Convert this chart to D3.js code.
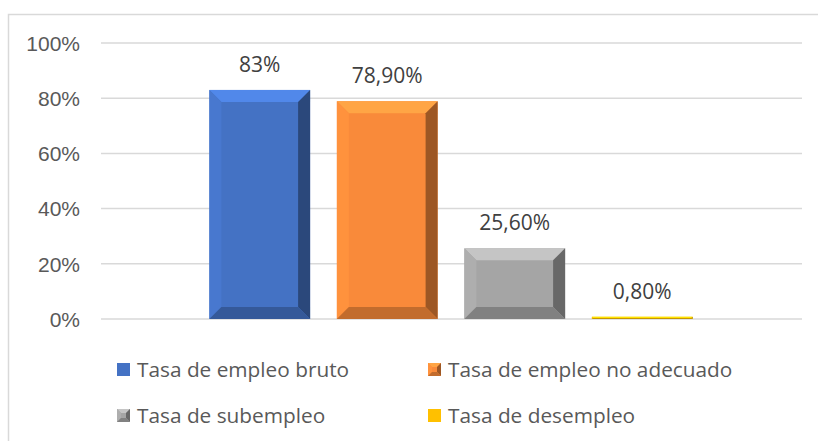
<!DOCTYPE html>
<script src="https://d3js.org/d3.v7.min.js"></script>

<style>
body {margin: 0; background: white;}
svg {font-family: "Open Sans", sans-serif;}
.grid line {stroke: #d9d9d9; stroke-width: 1.5;}
.axis text {fill: #595959; font-size: 21px;}
.label {fill: #404040; font-size: 21px; text-anchor: middle;}
.legend text {fill: #595959; font-size: 20.8px;}
</style>

<svg width="818" height="441"></svg>

<script>
var series = ["Tasa de empleo bruto", "Tasa de empleo no adecuado", "Tasa de subempleo", "Tasa de desempleo"];
var values = [0.83, 0.789, 0.256, 0.008];
var labels = ["83%", "78,90%", "25,60%", "0,80%"];
var colors = ["#4472c4", "#f98a3a", "#a5a5a5", "#ffc000"];
var ticks = [0, 0.2, 0.4, 0.6, 0.8, 1];

var svg = d3.select("svg");

// chart frame (only top and left edges are inside the picture)
svg.append("path")
    .attr("d", "M8.5,441V14.5H818")
    .attr("fill", "none")
    .attr("stroke", "#d9d9d9")
    .attr("stroke-width", 1.5);

var x = d3.scaleBand().domain(series).range([101, 801])
    .paddingInner(0.21).paddingOuter(0.85);
var y = d3.scaleLinear().domain([0, 1]).range([319, 43]);

svg.append("g").attr("class", "grid")
    .selectAll("line").data(ticks).enter().append("line")
    .attr("x1", 101).attr("x2", 802)
    .attr("y1", function(d) { return y(d); })
    .attr("y2", function(d) { return y(d); });

var yAxis = svg.append("g").attr("class", "axis")
    .attr("transform", "translate(80,0)")
    .call(d3.axisLeft(y).tickValues(ticks).tickSize(0).tickPadding(0)
        .tickFormat(function(d) { return Math.round(d * 100) + "%"; }));
yAxis.select(".domain").remove();
yAxis.selectAll("text").attr("dy", "0.35em");

// beveled box like the office "bevel" shape
function bevel(g, x0, y0, w, h, color, b) {
    b = Math.min(b, w / 2, h / 2);
    var c = d3.color(color);
    var x1 = x0 + w, y1 = y0 + h;
    g.append("rect").attr("x", x0).attr("y", y0).attr("width", w).attr("height", h)
        .attr("fill", color);
    if (b < 1) return;
    g.append("polygon").attr("fill", c.brighter(0.5))
        .attr("points", [[x0, y0], [x1, y0], [x1 - b, y0 + b], [x0 + b, y0 + b]].join(" "));
    g.append("polygon").attr("fill", c.brighter(0.15))
        .attr("points", [[x0, y0], [x0 + b, y0 + b], [x0 + b, y1 - b], [x0, y1]].join(" "));
    g.append("polygon").attr("fill", c.darker(1.3))
        .attr("points", [[x1, y0], [x1, y1], [x1 - b, y1 - b], [x1 - b, y0 + b]].join(" "));
    g.append("polygon").attr("fill", c.darker(0.7))
        .attr("points", [[x0, y1], [x0 + b, y1 - b], [x1 - b, y1 - b], [x1, y1]].join(" "));
}

var bars = svg.append("g");
series.forEach(function(s, i) {
    bevel(bars.append("g"), x(s), y(values[i]), x.bandwidth(), y(0) - y(values[i]), colors[i], 12);
});

svg.append("g").selectAll("text").data(series).enter().append("text")
    .attr("class", "label")
    .attr("x", function(d) { return x(d) + x.bandwidth() / 2; })
    .attr("y", function(d, i) { return y(values[i]) - 18; })
    .text(function(d, i) { return labels[i]; });

// legend, two columns
var legX = [117, 428], legY = [363, 409];
var legend = svg.append("g").attr("class", "legend");
series.forEach(function(s, i) {
    var lx = legX[i % 2], ly = legY[Math.floor(i / 2)];
    var g = legend.append("g");
    if (i == 0 || i == 3) {
        g.append("rect").attr("x", lx).attr("y", ly).attr("width", 13).attr("height", 13)
            .attr("fill", colors[i]);
    } else {
        bevel(g, lx, ly, 13, 13, colors[i], 4);
    }
    g.append("text").attr("x", lx + 20).attr("y", ly + 14).text(s);
});
</script>
